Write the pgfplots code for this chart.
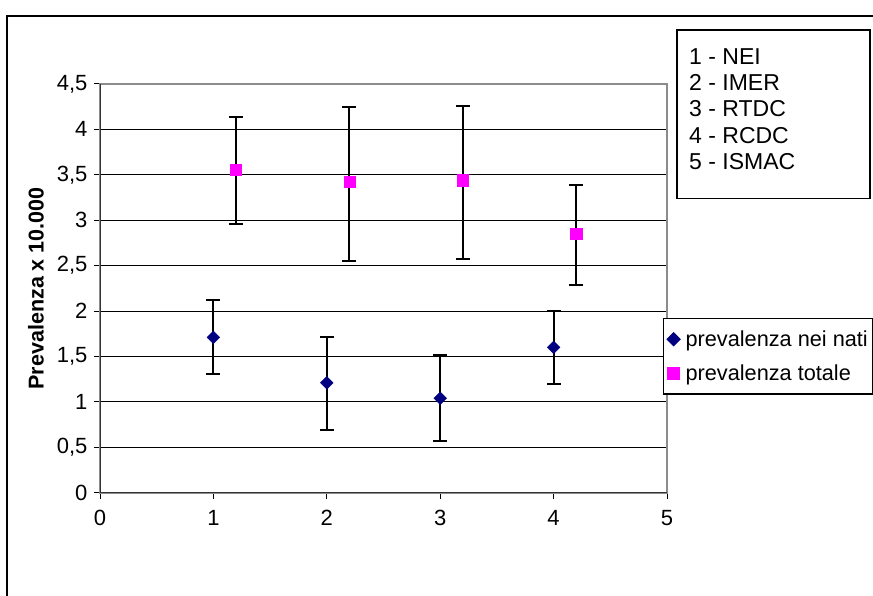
\documentclass[border=0pt]{standalone}
\usepackage{fontspec}
\setmainfont{Liberation Sans}
\usepackage{pgfplots}
\pgfplotsset{compat=1.18}
\definecolor{navy}{RGB}{0,0,128}
\definecolor{pinkm}{RGB}{255,0,255}

\begin{document}
\begin{tikzpicture}[x=1pt,y=1pt]
\useasboundingbox (0,0) rectangle (873,595);
\fill[white] (0,0) rectangle (873,595);
% chart frame (only left and top visible)
\draw[line width=1.5pt] (7,-5) -- (7,579) -- (880,579);

\begin{axis}[
  at={(100pt,102.3pt)}, anchor=south west,
  scale only axis, width=567pt, height=408.7pt,
  xmin=0, xmax=5, ymin=0, ymax=4.5,
  xtick={0,1,2,3,4,5}, ytick={0,0.5,1,1.5,2,2.5,3,3.5,4,4.5},
  /pgf/number format/use comma,
  /pgf/number format/assume math mode=true,
  tick pos=left, tick align=outside, major tick length=6pt,
  tick style={black, line width=1pt},
  axis line style={draw=gray!90, line width=1.6pt},
  ymajorgrids, major grid style={black, line width=1pt},
  tick label style={font=\fontsize{22}{26}\selectfont},
  xticklabel style={yshift=-8pt},
  yticklabel style={xshift=-3pt},
  ylabel={Prevalenza x 10.000},
  ylabel style={font=\bfseries\fontsize{21.5}{25}\selectfont, at={(axis description cs:-0.113,0.5)}, anchor=center},
  legend style={at={(axis description cs:0.993,0.4275)}, anchor=north west,
    draw=black, line width=1.2pt, font=\fontsize{21.7}{25}\selectfont,
    row sep=13pt, inner xsep=3pt, inner ysep=10pt, cells={anchor=west}},
  legend image code/.code={\draw[#1] plot coordinates {(7pt,0pt)};\path[draw=none] (0pt,0pt) -- (17pt,0pt);},
]
\addplot[only marks, mark=diamond*, mark size=6.4pt,
  mark options={draw=navy, fill=navy, xscale=1.33},
  error bars/.cd, y dir=both, y explicit,
  error bar style={black, line width=2pt},
  error mark options={black, rotate=90, mark size=7pt, line width=2pt}]
coordinates {
  (1,1.71) += (0,0.41) -= (0,0.40)
  (2,1.21) += (0,0.50) -= (0,0.52)
  (3,1.04) += (0,0.48) -= (0,0.47)
  (4,1.60) += (0,0.40) -= (0,0.405)
};
\addlegendentry{prevalenza nei nati}
\addplot[only marks, mark=square*, mark size=5.6pt,
  mark options={draw=pinkm, fill=pinkm},
  error bars/.cd, y dir=both, y explicit,
  error bar style={black, line width=2pt},
  error mark options={black, rotate=90, mark size=7pt, line width=2pt}]
coordinates {
  (1.2,3.56) += (0,0.58) -= (0,0.60)
  (2.2,3.42) += (0,0.825) -= (0,0.87)
  (3.2,3.44) += (0,0.82) -= (0,0.865)
  (4.2,2.85) += (0,0.54) -= (0,0.56)
};
\addlegendentry{prevalenza totale}
\draw[black!80, line width=1.6pt] (rel axis cs:0,1) -- (rel axis cs:0,0) -- (rel axis cs:1,0);
\end{axis}

% text box with the codes
\draw[line width=1.2pt, fill=white] (677,565) rectangle (870,396.5);
\foreach \t [count=\i from 0] in {1 - NEI, 2 - IMER, 3 - RTDC, 4 - RCDC, 5 - ISMAC}
  \node[anchor=base west, inner sep=0pt, font=\fontsize{23}{27}\selectfont] at (689,530.7-26.3*\i) {\t};
\end{tikzpicture}
\end{document}
